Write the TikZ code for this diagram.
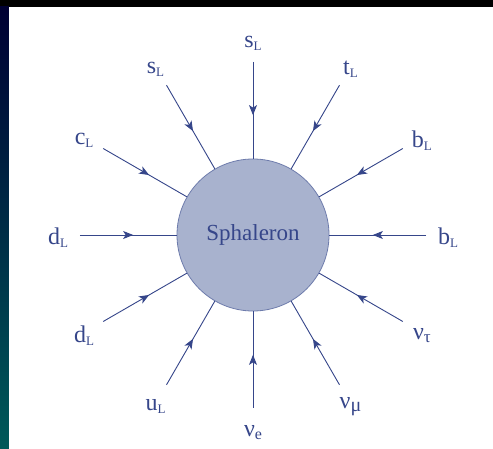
\documentclass[tikz,border=0pt]{standalone}
\usepackage{fontspec}
\setmainfont{Liberation Serif}
\usetikzlibrary{arrows.meta,decorations.markings}
\definecolor{ink}{HTML}{36468A}
\definecolor{blob}{HTML}{A8B2CE}
\definecolor{rim}{HTML}{6E7CAC}
\newcommand{\ptc}[3][13]{{\fontsize{24}{24}\selectfont #2}\raisebox{-3pt}{\fontsize{#1}{#1}\selectfont #3}}

\begin{document}
\begin{tikzpicture}[x=1pt,y=1pt,
  fermion/.style={ink, line width=0.9pt, postaction={decorate},
    decoration={markings, mark=at position 0.55 with {\arrow{Stealth[length=10pt,width=8pt,inset=2.5pt]}}}},
  lab/.style={text=ink, inner sep=0pt, yshift=-3pt}]
\useasboundingbox (-253,-214) rectangle (240,235);

% Fondo
\fill[black] (-253,-214) rectangle (240,235);
\shade[top color=black!80!blue, bottom color=teal!70!black] (-253,-214) rectangle (-244,228);
\fill[white] (-244,-214) rectangle (240,228);

% Esfaleron
\node[circle, fill=blob, draw=rim, line width=0.8pt, minimum size=152pt, inner sep=0pt,
  text=ink, font=\fontsize{23}{23}\selectfont] (sph) at (0,0) {Sphaleron};

% Patas fermionicas
\foreach \a/\p/\s/\z [count=\i] in {90/s/L/13, 60/t/L/13, 30/b/L/13, 0/b/L/13, -30/ν/τ/17,
    -60/ν/μ/20, -90/ν/e/16, -120/u/L/13, -150/d/L/13, 180/d/L/13, 150/c/L/13, 120/s/L/13} {
  \coordinate (o\i) at (\a:173);
  \node[lab] (l\i) at (\a:195) {\ptc[\z]{\p}{\s}};
  \draw[fermion] (o\i) -- (sph.\a);
}
\end{tikzpicture}
\end{document}
